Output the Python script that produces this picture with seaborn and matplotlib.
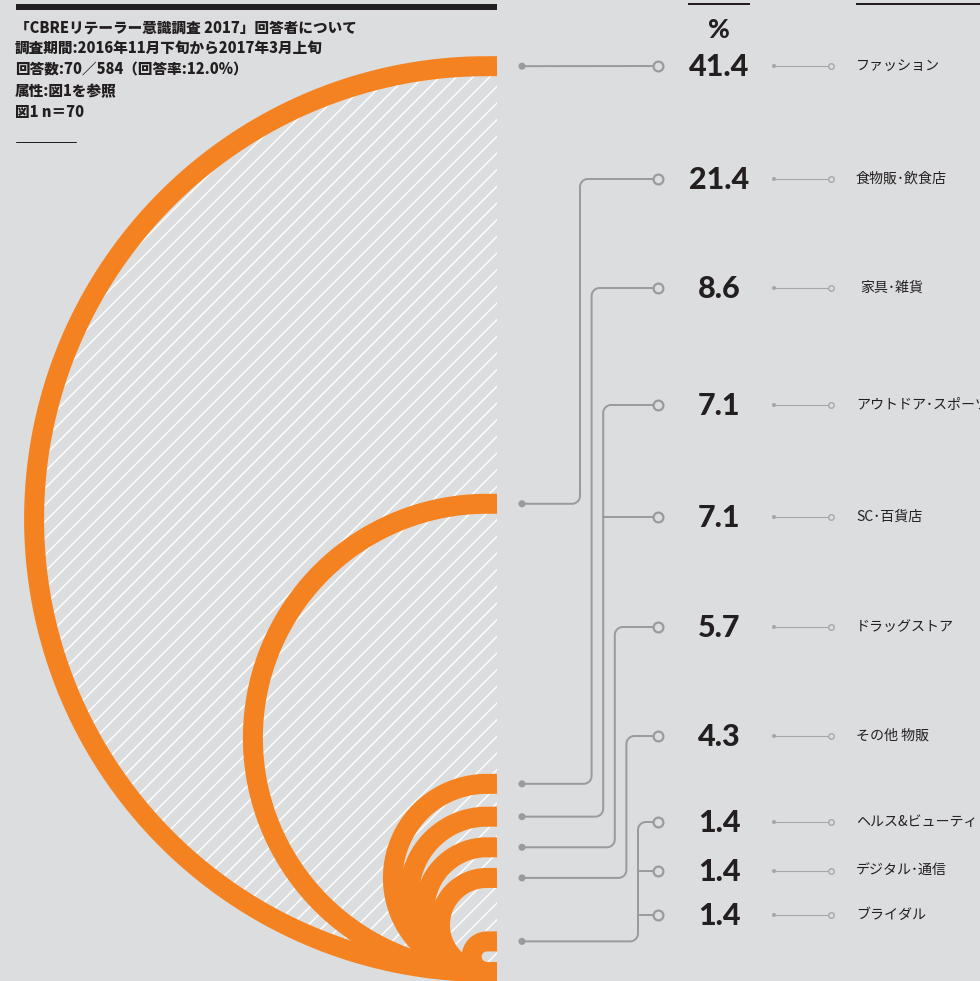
import numpy as np
import matplotlib
matplotlib.use("Agg")
import matplotlib.pyplot as plt
from matplotlib.patches import Polygon, Rectangle
import seaborn as sns

# ---- survey notes -------------------------------------------------------
header_lines = [
    "「CBREリテーラー意識調査 2017」回答者について",
    "調査期間:2016年11月下旬から2017年3月上旬",
    "回答数:70／584（回答率:12.0%）",
    "属性:図1を参照",
    "図1 n＝70",
]

# ---- respondents by business category (%) -------------------------------
categories = [
    "ファッション", "食物販･飲食店", "家具･雑貨", "アウトドア･スポーツ",
    "SC･百貨店", "ドラッグストア", "その他 物販", "ヘルス&ビューティ",
    "デジタル･通信", "ブライダル",
]
shares = [41.4, 21.4, 8.6, 7.1, 7.1, 5.7, 4.3, 1.4, 1.4, 1.4]
share_labels = ["41.4", "21.4", "8.6", "7.1", "7.1", "5.7", "4.3", "1.4", "1.4", "1.4"]

# ---- layout (pixel space) ------------------------------------------------
W, H = 980, 981
row_y = [66, 179, 288, 405, 517, 627, 736, 822, 871, 915]
label_x = [856, 856, 860, 856, 856, 856, 856, 856, 856, 856]
EDGE_X = 497          # right edge of the arc panel
BASE_Y = 972          # common bottom of every arc (stroke centre)
PX_PER_PT = 10.94     # arc radius per percentage point
STRAIGHT = 10         # flat run between arc and panel edge
ARC_W = 20            # arc stroke, px

BG = "#dcdddf"
ORANGE = "#f58220"
INK = "#231f20"
LINE = "#9a9b9d"
LINE_LIGHT = "#a7a8aa"

sns.set_theme(style="white")
plt.rcParams["font.family"] = ["Noto Sans CJK JP", "DejaVu Sans"]
plt.rcParams["hatch.linewidth"] = 1.0

fig = plt.figure(figsize=(W / 100, H / 100), dpi=100, facecolor=BG)
ax = fig.add_axes([0, 0, 1, 1])
ax.set_xlim(0, W)
ax.set_ylim(H, 0)
ax.set_facecolor(BG)
ax.axis("off")

px = 0.72  # points per pixel at 100 dpi


def arc_points(value, n=300):
    r = value * PX_PER_PT
    cy = BASE_Y - r
    cx = EDGE_X - STRAIGHT
    th = np.linspace(-np.pi / 2, np.pi / 2, n)
    xs = np.concatenate([[EDGE_X], cx - r * np.cos(th), [EDGE_X]])
    ys = np.concatenate([[cy - r], cy + r * np.sin(th), [cy + r]])
    return xs, ys


arc_values = sorted(set(shares), reverse=True)

# hatched interior of the largest half circle
bx, by = arc_points(arc_values[0])
ax.add_patch(Polygon(np.column_stack([bx, by]), closed=True, facecolor=BG,
                     edgecolor="white", linewidth=0, hatch="//", zorder=1))

# orange half circles, one per distinct share
for v in arc_values:
    xs, ys = arc_points(v)
    ax.plot(xs, ys, color=ORANGE, lw=ARC_W * px, solid_capstyle="butt",
            solid_joinstyle="round", zorder=2)

# ---- connectors from each arc to its rows -------------------------------
DOT_X, RING_X = 522, 658
RC = 8
arc_tops = [BASE_Y - 2 * v * PX_PER_PT for v in arc_values]
q = np.linspace(0, np.pi / 2, 20)
for j, v in enumerate(arc_values):
    rows = [i for i, s in enumerate(shares) if s == v]
    yd = arc_tops[j]
    yt = row_y[rows[0]]
    if j == 0:
        ax.plot([DOT_X, RING_X], [yd, yt], color=LINE, lw=2 * px, zorder=3)
        continue
    xv = 580 + 11.6 * (j - 1)
    c1 = (xv - RC, yd - RC)
    c2 = (xv + RC, yt + RC)
    xs = np.concatenate([[DOT_X], c1[0] + RC * np.sin(q), c2[0] - RC * np.cos(q), [RING_X]])
    ys = np.concatenate([[yd], c1[1] + RC * np.cos(q), c2[1] - RC * np.sin(q), [yt]])
    ax.plot(xs, ys, color=LINE, lw=2 * px, zorder=3, solid_capstyle="butt")
    for i in rows[1:]:
        ax.plot([xv, RING_X], [row_y[i], row_y[i]], color=LINE, lw=2 * px, zorder=3)

sns.scatterplot(x=[DOT_X] * len(arc_tops), y=arc_tops, s=26, color=LINE,
                edgecolor="none", ax=ax, zorder=4, legend=False)
sns.scatterplot(x=[RING_X] * len(row_y), y=row_y, s=50, facecolor=BG,
                edgecolor=LINE, linewidth=1.6, ax=ax, zorder=4, legend=False)

# small leaders between the values and the category names
for y in row_y:
    ax.plot([774, 831], [y, y], color=LINE_LIGHT, lw=1.1 * px, zorder=3)
sns.scatterplot(x=[774] * len(row_y), y=row_y, s=9, color=LINE_LIGHT,
                edgecolor="none", ax=ax, zorder=4, legend=False)
sns.scatterplot(x=[831] * len(row_y), y=row_y, s=16, facecolor=BG,
                edgecolor=LINE_LIGHT, linewidth=1.0, ax=ax, zorder=4, legend=False)

# ---- texts ---------------------------------------------------------------
num_font = dict(family=["Lato", "DejaVu Sans"], weight="black", color=INK)
ax.text(719, 30, "%", fontsize=19, ha="center", va="center", **num_font)
for y, lab in zip(row_y, share_labels):
    ax.text(719, y + 1, lab, fontsize=22, ha="center", va="center", **num_font)

for y, x, cat in zip(row_y, label_x, categories):
    ax.text(x, y, cat, fontsize=10.1, ha="left", va="center", color=INK)

for k, line in enumerate(header_lines):
    ax.text(15, 28 + 21.2 * k, line, fontsize=10.5, fontweight="heavy",
            ha="left", va="center", color=INK, zorder=6)

# rules
ax.add_patch(Rectangle((16, 4), EDGE_X - 16, 6, facecolor=INK, edgecolor="none", zorder=6))
ax.add_patch(Rectangle((688, 2.5), 62, 2, facecolor=INK, edgecolor="none", zorder=6))
ax.add_patch(Rectangle((856, 2.5), W - 856, 2, facecolor=INK, edgecolor="none", zorder=6))
ax.plot([16, 76], [142, 142], color=INK, lw=1.0 * px, zorder=6)

fig.savefig("out.png", dpi=100, facecolor=BG)
